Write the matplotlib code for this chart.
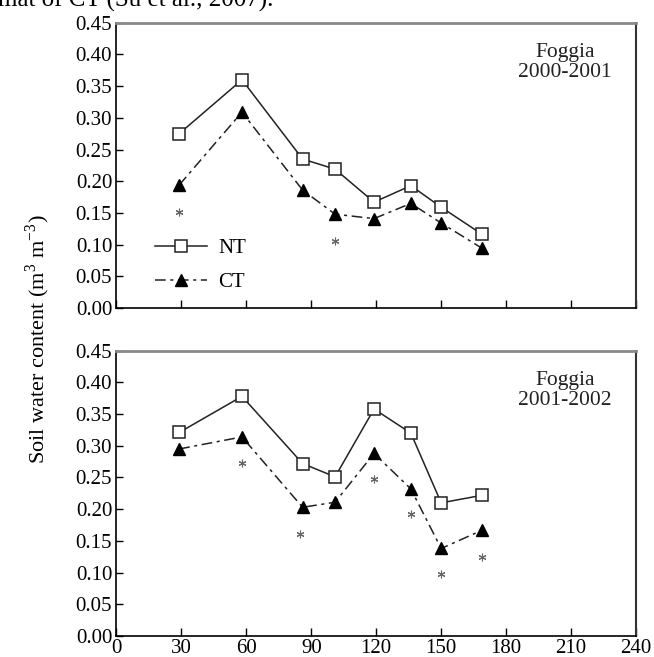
import matplotlib
matplotlib.use("Agg")
import matplotlib.pyplot as plt
from matplotlib.ticker import FormatStrFormatter

plt.rcParams['font.family'] = ['Liberation Serif', 'DejaVu Serif']
plt.rcParams['mathtext.fontset'] = 'custom'
plt.rcParams['mathtext.rm'] = 'Liberation Serif'

# Days (x positions of sampling)
days = [29, 58, 86, 101, 119, 136, 150, 169]

# 2000-2001
nt_0001 = [0.275, 0.360, 0.235, 0.219, 0.167, 0.193, 0.159, 0.116]
ct_0001 = [0.194, 0.309, 0.186, 0.148, 0.141, 0.165, 0.134, 0.094]
sig_x_0001 = [29, 101]
sig_y_0001 = [0.151, 0.106]

# 2001-2002
nt_0102 = [0.321, 0.378, 0.272, 0.251, 0.358, 0.320, 0.210, 0.222]
ct_0102 = [0.295, 0.314, 0.203, 0.211, 0.288, 0.232, 0.138, 0.167]
sig_x_0102 = [58, 85, 119, 136, 150, 169]
sig_y_0102 = [0.273, 0.161, 0.247, 0.192, 0.098, 0.125]

xticks = [0, 30, 60, 90, 120, 150, 180, 210, 240]
yticks = [0.00, 0.05, 0.10, 0.15, 0.20, 0.25, 0.30, 0.35, 0.40, 0.45]

fig = plt.figure(figsize=(6.54, 6.57), dpi=100)
ax1 = fig.add_axes([0.178, 0.5312, 0.7945, 0.4342])
ax2 = fig.add_axes([0.178, 0.032, 0.7945, 0.4342])

ct_dash = (0, (7, 3, 2, 3))

def style(ax, labels_x):
    ax.set_xlim(0, 240)
    ax.set_ylim(0, 0.45)
    ax.set_xticks(xticks)
    ax.set_yticks(yticks)
    ax.yaxis.set_major_formatter(FormatStrFormatter('%.2f'))
    ax.tick_params(axis='both', direction='in', labelsize=15, width=1.0, pad=3)
    ax.tick_params(axis='x', length=6, pad=2)
    ax.tick_params(axis='y', length=5)
    if not labels_x:
        ax.tick_params(axis='x', labelbottom=False)
    ax.spines['top'].set_color('#8a8a8a')
    ax.spines['top'].set_linewidth(2.0)
    ax.spines['right'].set_color('#333333')
    ax.spines['right'].set_linewidth(1.5)
    ax.spines['left'].set_linewidth(1.2)
    ax.spines['bottom'].set_linewidth(1.2)

def draw(ax, nt, ct, sx, sy, label_text, legend=False):
    ax.plot(days, nt, color='#222222', lw=1.1, marker='s', markersize=9,
            markerfacecolor='white', markeredgecolor='#222222', markeredgewidth=1.1,
            label='NT', zorder=3)
    ax.plot(days, ct, color='#222222', lw=1.1, linestyle=ct_dash, marker='^',
            markersize=8, markerfacecolor='black', markeredgecolor='black',
            label='CT', zorder=3)
    ax.plot(sx, sy, linestyle='none', marker=(6, 2, 0), markersize=5.5,
            markeredgewidth=0.8, color='#666666', zorder=2)
    ax.text(0.863, 0.86, label_text, transform=ax.transAxes, ha='center',
            va='center', fontsize=15.5, linespacing=1.05, color='#222222')
    if legend:
        ax.legend(loc='center left', bbox_to_anchor=(0.075, 0.149), frameon=False,
                  fontsize=15, handlelength=2.5, handletextpad=0.5,
                  labelspacing=0.7, borderpad=0, borderaxespad=0)

style(ax1, False)
style(ax2, True)
draw(ax1, nt_0001, ct_0001, sig_x_0001, sig_y_0001, 'Foggia\n2000-2001', legend=True)
draw(ax2, nt_0102, ct_0102, sig_x_0102, sig_y_0102, 'Foggia\n2001-2002')

fig.text(0.057, 0.483, 'Soil water content (m$^{3}$ m$^{-3}$)', rotation=90,
         ha='center', va='center', fontsize=16)

fig.text(-0.003, 1 - 7 / 657, 'mat of CT (Su et al., 2007).', fontsize=18,
         ha='left', va='baseline')

fig.savefig('out.png', dpi=100)
